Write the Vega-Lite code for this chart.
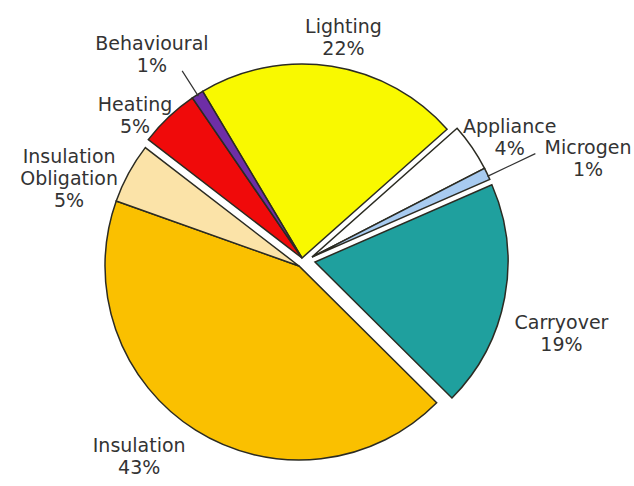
{
  "$schema": "https://vega.github.io/schema/vega-lite/v6.json",
  "width": 610,
  "height": 446,
  "autosize": {"type": "none"},
  "padding": {"left": 0, "top": 40, "right": 24, "bottom": 0},
  "background": "white",
  "config": {"view": {"stroke": null}, "text": {"font": "DejaVu Sans"}},
  "data": {
    "values": [
      {"category": "Lighting", "pct": 22, "order": 1, "label": "Lighting\n22%"},
      {"category": "Appliance", "pct": 4, "order": 2, "label": "Appliance\n4%"},
      {"category": "Microgen", "pct": 1, "order": 3, "label": "Microgen\n1%"},
      {"category": "Carryover", "pct": 19, "order": 4, "label": "Carryover\n19%"},
      {"category": "Insulation", "pct": 43, "order": 5, "label": "Insulation\n43%"},
      {"category": "Insulation Obligation", "pct": 5, "order": 6, "label": "Insulation\nObligation\n5%"},
      {"category": "Heating", "pct": 5, "order": 7, "label": "Heating\n5%"},
      {"category": "Behavioural", "pct": 1, "order": 8, "label": "Behavioural\n1%"}
    ]
  },
  "transform": [
    {"stack": "pct", "groupby": [], "sort": [{"field": "order", "order": "ascending"}], "as": ["start", "end"]},
    {"calculate": "(datum.start + datum.end) / 2", "as": "mid"}
  ],
  "encoding": {
    "theta": {"field": "start", "type": "quantitative", "scale": {"domain": [0, 100], "range": [-0.5376, 5.7456]}},
    "theta2": {"field": "end"},
    "color": {
      "field": "category",
      "type": "nominal",
      "scale": {
        "domain": ["Lighting", "Appliance", "Microgen", "Carryover", "Insulation", "Insulation Obligation", "Heating", "Behavioural"],
        "range": ["#F9F900", "#FFFFFF", "#A8CBF0", "#1FA09E", "#FAC000", "#FBE3A8", "#F00A0A", "#6E2EA6"]
      },
      "legend": null
    }
  },
  "layer": [
    {
      "transform": [{"filter": {"field": "category", "oneOf": ["Lighting", "Heating", "Behavioural"]}}],
      "mark": {"type": "arc", "outerRadius": 194, "stroke": "#2b2b22", "strokeWidth": 1.5, "xOffset": -3, "yOffset": -5}
    },
    {
      "transform": [{"filter": {"field": "category", "oneOf": ["Appliance", "Microgen"]}}],
      "mark": {"type": "arc", "outerRadius": 194, "stroke": "#2b2b22", "strokeWidth": 1.5, "xOffset": 7, "yOffset": -6}
    },
    {
      "transform": [{"filter": {"field": "category", "oneOf": ["Carryover"]}}],
      "mark": {"type": "arc", "outerRadius": 193, "stroke": "#2b2b22", "strokeWidth": 1.5, "xOffset": 10, "yOffset": -1}
    },
    {
      "transform": [{"filter": {"field": "category", "oneOf": ["Insulation", "Insulation Obligation"]}}],
      "mark": {"type": "arc", "outerRadius": 194, "stroke": "#2b2b22", "strokeWidth": 1.5, "xOffset": -6, "yOffset": 3}
    },
    {
      "transform": [{"filter": {"field": "category", "equal": "Microgen"}}],
      "mark": {"type": "arc", "outerRadius": 255, "innerRadius": 202, "filled": false, "stroke": "#333333", "strokeWidth": 1.2},
      "encoding": {"theta": {"field": "mid", "type": "quantitative"}, "theta2": {"field": "mid"}, "color": {"value": "#333333"}}
    },
    {
      "transform": [{"filter": {"field": "category", "equal": "Behavioural"}}],
      "mark": {"type": "arc", "outerRadius": 228, "innerRadius": 198, "filled": false, "stroke": "#333333", "strokeWidth": 1.2},
      "encoding": {"theta": {"field": "mid", "type": "quantitative"}, "theta2": {"field": "mid"}, "color": {"value": "#333333"}}
    },
    {
      "transform": [{"filter": {"field": "category", "equal": "Lighting"}}],
      "mark": {"type": "text", "radius": 232, "dx": 3, "dy": -7, "fontSize": 19, "lineHeight": 22, "lineBreak": "\n", "align": "center", "baseline": "middle"},
      "encoding": {"theta": {"field": "mid", "type": "quantitative"}, "theta2": null, "text": {"field": "label"}, "color": {"value": "#333333"}}
    },
    {
      "transform": [{"filter": {"field": "category", "equal": "Appliance"}}],
      "mark": {"type": "text", "radius": 242, "dx": 5, "dy": 1, "fontSize": 19, "lineHeight": 22, "lineBreak": "\n", "align": "center", "baseline": "middle"},
      "encoding": {"theta": {"field": "mid", "type": "quantitative"}, "theta2": null, "text": {"field": "label"}, "color": {"value": "#333333"}}
    },
    {
      "transform": [{"filter": {"field": "category", "equal": "Microgen"}}],
      "mark": {"type": "text", "radius": 300, "dx": 12, "dy": 14, "fontSize": 19, "lineHeight": 22, "lineBreak": "\n", "align": "center", "baseline": "middle"},
      "encoding": {"theta": {"field": "mid", "type": "quantitative"}, "theta2": null, "text": {"field": "label"}, "color": {"value": "#333333"}}
    },
    {
      "transform": [{"filter": {"field": "category", "equal": "Carryover"}}],
      "mark": {"type": "text", "radius": 265, "dx": -4, "dy": 11, "fontSize": 19, "lineHeight": 22, "lineBreak": "\n", "align": "center", "baseline": "middle"},
      "encoding": {"theta": {"field": "mid", "type": "quantitative"}, "theta2": null, "text": {"field": "label"}, "color": {"value": "#333333"}}
    },
    {
      "transform": [{"filter": {"field": "category", "equal": "Insulation"}}],
      "mark": {"type": "text", "radius": 253, "dx": -31, "dy": -31, "fontSize": 19, "lineHeight": 22, "lineBreak": "\n", "align": "center", "baseline": "middle"},
      "encoding": {"theta": {"field": "mid", "type": "quantitative"}, "theta2": null, "text": {"field": "label"}, "color": {"value": "#333333"}}
    },
    {
      "transform": [{"filter": {"field": "category", "equal": "Insulation Obligation"}}],
      "mark": {"type": "text", "radius": 255, "dx": -12, "dy": 16, "fontSize": 19, "lineHeight": 22, "lineBreak": "\n", "align": "center", "baseline": "middle"},
      "encoding": {"theta": {"field": "mid", "type": "quantitative"}, "theta2": null, "text": {"field": "label"}, "color": {"value": "#333333"}}
    },
    {
      "transform": [{"filter": {"field": "category", "equal": "Heating"}}],
      "mark": {"type": "text", "radius": 227, "dx": -14, "dy": 7, "fontSize": 19, "lineHeight": 22, "lineBreak": "\n", "align": "center", "baseline": "middle"},
      "encoding": {"theta": {"field": "mid", "type": "quantitative"}, "theta2": null, "text": {"field": "label"}, "color": {"value": "#333333"}}
    },
    {
      "transform": [{"filter": {"field": "category", "equal": "Behavioural"}}],
      "mark": {"type": "text", "radius": 260, "dx": -13, "dy": 0, "fontSize": 19, "lineHeight": 22, "lineBreak": "\n", "align": "center", "baseline": "middle"},
      "encoding": {"theta": {"field": "mid", "type": "quantitative"}, "theta2": null, "text": {"field": "label"}, "color": {"value": "#333333"}}
    }
  ]
}
